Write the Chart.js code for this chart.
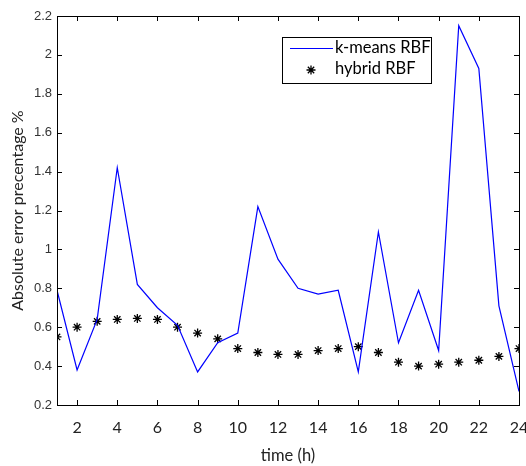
<!DOCTYPE html>
<html><head><meta charset="utf-8">
<script src="https://cdn.jsdelivr.net/npm/chart.js@4/dist/chart.umd.min.js"></script>
<style>html,body{margin:0;padding:0;background:#fff}#wrap{width:526px;height:466px}</style>
</head><body><div id="wrap"><canvas id="c" width="526" height="466"></canvas></div>
<script>
const hours = [1,2,3,4,5,6,7,8,9,10,11,12,13,14,15,16,17,18,19,20,21,22,23,24];
const kmeansRBF = [0.79,0.38,0.64,1.42,0.82,0.70,0.61,0.37,0.52,0.57,1.22,0.95,0.80,0.77,0.79,0.37,1.09,0.52,0.79,0.48,2.15,1.93,0.71,0.27];
const hybridRBF = [0.55,0.60,0.63,0.64,0.645,0.64,0.60,0.57,0.54,0.49,0.47,0.46,0.46,0.48,0.49,0.50,0.47,0.42,0.40,0.41,0.42,0.43,0.45,0.49];
const xTickValues = [2,4,6,8,10,12,14,16,18,20,22,24];
const yTickValues = [0.2,0.4,0.6,0.8,1.0,1.2,1.4,1.6,1.8,2.0,2.2];
const seriesNames = ['k-means RBF','hybrid RBF'];

const frame = {
  id:'frame',
  afterDraw(chart){
    const {ctx, chartArea:a, scales:{x,y}} = chart;
    ctx.save();
    ctx.strokeStyle='#000'; ctx.lineWidth=1;
    ctx.strokeRect(Math.round(a.left)+0.5, Math.round(a.top)+0.5, Math.round(a.right-a.left), Math.round(a.bottom-a.top));
    const L=5;
    ctx.beginPath();
    xTickValues.forEach(v=>{const px=Math.round(x.getPixelForValue(v))+0.5;
      ctx.moveTo(px,a.bottom);ctx.lineTo(px,a.bottom-L);
      ctx.moveTo(px,a.top);ctx.lineTo(px,a.top+L);});
    yTickValues.forEach(v=>{const py=Math.round(y.getPixelForValue(v))+0.5;
      ctx.moveTo(a.left,py);ctx.lineTo(a.left+L,py);
      ctx.moveTo(a.right,py);ctx.lineTo(a.right-L,py);});
    ctx.stroke();
    // legend
    const bx=282, by=37, bw=149, bh=46;
    ctx.fillStyle='#fff'; ctx.fillRect(bx,by,bw,bh);
    ctx.strokeRect(bx+0.5,by+0.5,bw,bh);
    ctx.strokeStyle='blue'; ctx.beginPath(); ctx.moveTo(290,48.5); ctx.lineTo(333,48.5); ctx.stroke();
    ctx.strokeStyle='#000'; ctx.lineWidth=1.3;
    const cx=311, cy=70, r=4.5;
    ctx.beginPath();
    for(let k=0;k<4;k++){const ang=k*Math.PI/4; ctx.moveTo(cx-r*Math.cos(ang),cy-r*Math.sin(ang)); ctx.lineTo(cx+r*Math.cos(ang),cy+r*Math.sin(ang));}
    ctx.stroke();
    ctx.fillStyle='#000'; ctx.font='16.5px Lato, "Open Sans", sans-serif'; ctx.textBaseline='middle'; ctx.textAlign='left';
    ctx.fillText(seriesNames[0],335,48);
    ctx.fillText(seriesNames[1],335,69);
    ctx.restore();
  }
};

new Chart(document.getElementById('c'),{
  type:'line',
  data:{
    datasets:[
      {label:seriesNames[0], data:hours.map((h,i)=>({x:h,y:kmeansRBF[i]})), borderColor:'#0000ff', borderWidth:1.2, pointRadius:0, tension:0, fill:false},
      {label:seriesNames[1], data:hours.map((h,i)=>({x:h,y:hybridRBF[i]})), showLine:false, pointStyle:'star', pointRadius:4.5, borderColor:'#000', backgroundColor:'#000', pointBorderWidth:1.3}
    ]
  },
  plugins:[frame],
  options:{
    responsive:false, animation:false, devicePixelRatio:1,
    layout:{padding:{left:0,right:7,top:16,bottom:0}},
    plugins:{legend:{display:false}, tooltip:{enabled:false}},
    scales:{
      x:{type:'linear', min:1, max:24,
        afterBuildTicks:s=>{s.ticks=xTickValues.map(v=>({value:v}));},
        afterFit:s=>{s.height=61; s.paddingLeft=0; s.paddingRight=0;},
        grid:{display:false, drawTicks:false},
        border:{display:false},
        ticks:{padding:13, color:'#222', font:{family:'Lato, "Open Sans", sans-serif', size:16}, maxRotation:0, autoSkip:false},
        title:{display:true, text:'time (h)', color:'#222', font:{family:'Lato, "Open Sans", sans-serif', size:16.5}, padding:{top:5,bottom:0}}
      },
      y:{type:'linear', min:0.2, max:2.2,
        afterBuildTicks:s=>{s.ticks=yTickValues.map(v=>({value:v}));},
        afterFit:s=>{s.width=57; s.paddingTop=0; s.paddingBottom=0;},
        grid:{display:false, drawTicks:false},
        border:{display:false},
        ticks:{padding:5, color:'#333', font:{family:'"Liberation Sans", Arial, sans-serif', size:13}, callback:v=>String(+v.toFixed(1))},
        title:{display:true, text:'Absolute error precentage %', color:'#222', font:{family:'Lato, "Open Sans", sans-serif', size:16}, padding:{top:8,bottom:0}}
      }
    }
  }
});
</script></body></html>
